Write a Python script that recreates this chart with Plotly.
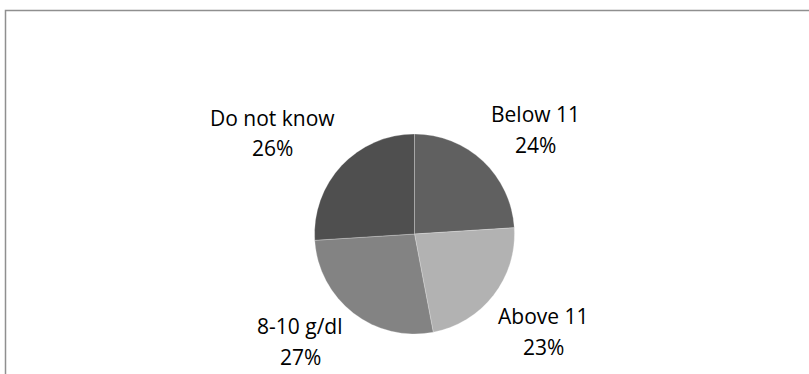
import plotly.graph_objects as go

# ---- data ----
categories = ["Below 11", "Above 11", "8-10 g/dl", "Do not know"]
values = [24, 23, 27, 26]
colors = ["#606060", "#b2b2b2", "#838383", "#4f4f4f"]

# ---- layout (pixel geometry) ----
W, H = 809, 374
cx, cy, r = 414.5, 234, 100
# label block centres (x, baseline of first line) in pixels
label_pos = [(535, 121), (543, 323), (300, 333), (272, 125)]
line_gap = 31
font = dict(family="Open Sans", size=21, color="#000000")

fig = go.Figure(go.Pie(
    labels=categories,
    values=values,
    sort=False,
    direction="clockwise",
    rotation=0,
    marker=dict(colors=colors, line=dict(color="rgba(255,255,255,0.25)", width=1)),
    textinfo="none",
    hoverinfo="label+percent",
    showlegend=False,
    domain=dict(x=[(cx - r) / W, (cx + r) / W], y=[1 - (cy + r) / H, 1 - (cy - r) / H]),
))

annotations = []
for cat, val, (lx, ly) in zip(categories, values, label_pos):
    for i, txt in enumerate([cat, f"{val}%"]):
        base = ly + i * line_gap
        annotations.append(dict(
            x=lx / W, y=1 - (base - 7.5) / H, xref="paper", yref="paper",
            text=txt, showarrow=False, xanchor="center", yanchor="middle",
            font=font,
        ))

fig.update_layout(
    width=W, height=H,
    margin=dict(l=0, r=0, t=0, b=0),
    paper_bgcolor="#ffffff", plot_bgcolor="#ffffff",
    annotations=annotations,
    shapes=[dict(type="rect", xref="paper", yref="paper",
                 x0=5.5 / W, x1=1.05, y0=-0.1, y1=1 - 10.5 / H,
                 line=dict(color="#8f8f8f", width=1.5))],
)

fig.write_html("out.html")
